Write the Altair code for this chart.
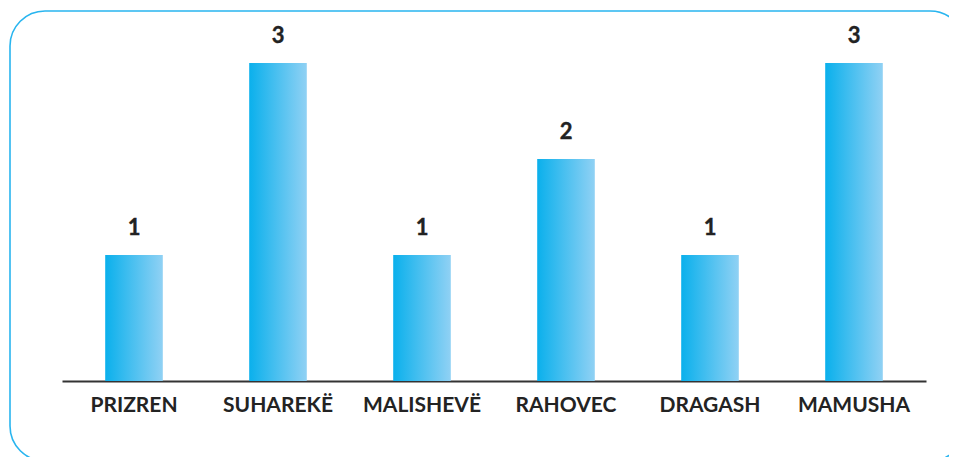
import altair as alt
import pandas as pd

categories = ["PRIZREN", "SUHAREKË", "MALISHEVË", "RAHOVEC", "DRAGASH", "MAMUSHA"]
values = [1, 3, 1, 2, 1, 3]

Y_MIN = -0.3125
Y_MAX = 3

df = pd.DataFrame({"city": categories, "value": values})

W, H = 864, 318
FONT = "Lato"

x_enc = alt.X("city:N", sort=None, title=None,
              scale=alt.Scale(paddingInner=0.6, paddingOuter=0.3),
              axis=alt.Axis(labelAngle=0, labelFont=FONT, labelFontSize=21,
                            labelFontWeight="bold", labelColor="#232323",
                            labelPadding=13, ticks=False, domainColor="#333333",
                            domainWidth=2))
y_scale = alt.Scale(domain=[Y_MIN, Y_MAX], nice=False, zero=False)

gradient = alt.Gradient(
    gradient="linear", x1=0, x2=1, y1=0, y2=0,
    stops=[alt.GradientStop(color="#0ab0ec", offset=0),
           alt.GradientStop(color="#90d1f4", offset=1)],
)

bars = alt.Chart(df).mark_bar(color=gradient).encode(
    x=x_enc,
    y=alt.Y("value:Q", scale=y_scale, axis=None),
    y2=alt.Y2(datum=Y_MIN),
)

labels = alt.Chart(df).mark_text(
    font=FONT, fontSize=22, fontWeight="bold", color="#222222",
    baseline="alphabetic", dy=-20, stroke="#222222", strokeWidth=0.4,
).encode(
    x=alt.X("city:N", sort=None),
    y=alt.Y("value:Q", scale=y_scale),
    text=alt.Text("value:Q"),
)

border = alt.Chart(alt.Data(values=[{}])).mark_rect(
    fillOpacity=0, stroke="#29b5ef", strokeWidth=1.6, cornerRadius=35,
).encode(
    x=alt.value(-52), x2=alt.value(903),
    y=alt.value(-52), y2=alt.value(398),
)

chart = alt.layer(border, bars, labels).properties(
    width=W, height=H,
    padding={"left": 54, "top": 55, "right": 23, "bottom": 76},
    autosize=alt.AutoSizeParams(type="none"),
).configure_view(stroke=None).configure_axis(grid=False)

chart.save("out.html", embed_options={"renderer": "svg", "actions": False})
